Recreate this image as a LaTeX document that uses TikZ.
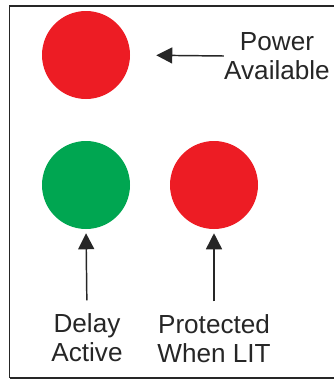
\documentclass[tikz,border=0pt]{standalone}
\usepackage{fontspec}
\setmainfont{Liberation Sans}
\usetikzlibrary{arrows.meta}

\definecolor{lampred}{HTML}{ED1C24}
\definecolor{lampgreen}{HTML}{00A651}

\begin{document}
\begin{tikzpicture}[x=0.75pt,y=-0.75pt,
    lamp/.style={circle,minimum size=66pt,inner sep=0pt},
    caption/.style={align=center,inner sep=0pt,text=black!85,
        font=\fontsize{19.6}{21.75}\selectfont},
    pointer/.style={line width=1.1pt,black!85,
        -{Triangle[length=12pt,width=12pt]}}]
    \useasboundingbox (0,0) rectangle (333,379);
    % panel frame
    \draw[line width=1.1pt,black!85] (9.5,378) -- (9.5,6) -- (345,6);
    \draw[line width=1.1pt,black!85] (9.5,378) -- (345,378);
    % lamps
    \node[lamp,fill=lampred] (pwrlamp) at (86,55) {};
    \node[lamp,fill=lampgreen] (dlylamp) at (86,185) {};
    \node[lamp,fill=lampred] (prtlamp) at (214,185) {};
    % captions
    \node[caption] (pwrtext) at (277,56) {Power\\Available};
    \node[caption] (dlytext) at (87,338) {Delay\\Active};
    \node[caption] (prttext) at (214,339) {Protected\\When LIT};
    % arrows
    \draw[pointer,shorten >=19.5pt] (pwrtext.west) -- (pwrlamp.east);
    \draw[pointer,shorten <=10pt,shorten >=3pt] (dlytext.north) -- (dlylamp.south);
    \draw[pointer,shorten <=10pt,shorten >=3pt] (prttext.north) -- (prtlamp.south);
\end{tikzpicture}
\end{document}
